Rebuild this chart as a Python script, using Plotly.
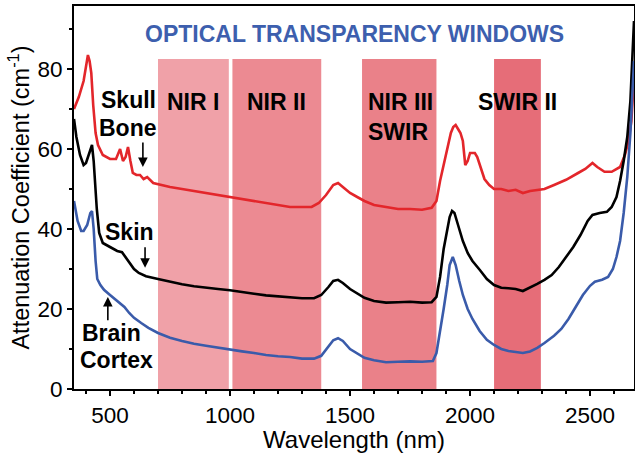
import plotly.graph_objects as go

# ---------------- data ----------------
skull_wl = [350, 370, 390, 400, 408, 415, 422, 430, 440, 450, 470, 500, 525, 542, 554, 565, 575, 585, 595, 610,
            625, 640, 655, 680, 710, 750, 800, 850, 900, 950, 1000, 1050, 1100, 1150, 1200, 1250, 1300, 1340, 1370,
            1400, 1430, 1450, 1470, 1500, 1530, 1560, 1600, 1650, 1700, 1750, 1800, 1840, 1860, 1875, 1890, 1905,
            1920, 1930, 1940, 1950, 1960, 1970, 1980, 1990, 2000, 2010, 2020, 2030, 2045, 2060, 2080, 2100, 2130,
            2160, 2190, 2220, 2250, 2280, 2310, 2350, 2400, 2450, 2480, 2510, 2530, 2560, 2590, 2625, 2645, 2660,
            2672, 2683]
skull_val = [70, 73, 77, 81, 83.5, 82, 79, 71, 64, 61, 58.5, 57.5, 57.5, 60, 57, 58, 60.5, 57, 54, 53.5,
             53.5, 52.5, 53, 51.5, 51, 50.5, 50, 49.5, 49, 48.5, 48, 47.5, 47, 46.5, 46, 45.5, 45.5, 45.5, 46.5,
             48.5, 51, 51.5, 50.5, 49, 48, 47, 46, 45.5, 45, 45, 44.8, 45.3, 47, 52, 56, 60,
             64, 65.5, 66, 65, 64, 62, 56, 57, 59, 59, 59, 58, 55, 52.5, 51, 50, 50,
             49.5, 49.8, 49, 49.5, 49.8, 50, 51, 52.3, 54, 55, 56.5, 55.5, 54.3, 54.3, 55.5, 58.5, 62,
             67, 78]

skin_wl = [350, 360, 375, 390, 400, 415, 425, 432, 438, 445, 455, 470, 500, 530, 550, 565, 580, 600, 620, 650,
           700, 750, 800, 850, 900, 950, 1000, 1050, 1100, 1150, 1200, 1250, 1300, 1350, 1380, 1410, 1430, 1450,
           1470, 1500, 1530, 1560, 1600, 1650, 1700, 1750, 1800, 1840, 1860, 1875, 1890, 1905, 1915, 1925, 1935,
           1950, 1970, 1990, 2010, 2040, 2070, 2100, 2130, 2160, 2190, 2220, 2250, 2280, 2310, 2340, 2370, 2400,
           2430, 2460, 2490, 2510, 2540, 2570, 2590, 2610, 2625, 2640, 2655, 2668, 2677, 2683]
skin_val = [67.5, 63, 58.5, 56, 56.5, 59, 61, 57, 50, 45, 39, 36.5, 35.5, 34.5, 34.2, 33, 31.5, 30, 29, 28.2,
            27.5, 26.8, 26.2, 25.7, 25.3, 25, 24.7, 24.2, 23.8, 23.4, 23.2, 23, 22.7, 22.7, 23.5, 25.5, 27, 27.3,
            26.5, 25, 23.8, 22.8, 22, 21.6, 21.7, 21.8, 21.6, 21.7, 23, 28, 35, 40, 43, 44.5, 44,
            41, 37, 34, 32, 29.8, 27.5, 26, 25.3, 25.2, 25, 24.5, 25.3, 26.3, 27.3, 28.5, 30.5, 33,
            35.5, 38.5, 42, 43.5, 44, 44.3, 45.5, 48, 52, 57, 63, 72, 82, 92]

brain_wl = [350, 365, 380, 390, 405, 418, 425, 432, 440, 447, 460, 475, 500, 520, 540, 560, 580, 600, 630, 660,
            700, 750, 800, 850, 900, 950, 1000, 1050, 1100, 1150, 1200, 1250, 1300, 1350, 1380, 1410, 1430, 1450,
            1470, 1500, 1530, 1560, 1600, 1650, 1700, 1750, 1800, 1845, 1860, 1875, 1890, 1905, 1915, 1928, 1940,
            1955, 1970, 1990, 2010, 2040, 2070, 2100, 2130, 2160, 2190, 2220, 2250, 2280, 2310, 2330, 2350, 2380,
            2410, 2440, 2470, 2500, 2520, 2550, 2575, 2595, 2610, 2625, 2640, 2655, 2668, 2683]
brain_val = [47, 42, 39.5, 39.5, 41, 44, 44.5, 40, 32, 27.5, 26, 24.8, 23.5, 22.5, 21.6, 20.5, 19, 17.8, 16.5, 15.3,
             14, 12.8, 12, 11.3, 10.8, 10.3, 9.9, 9.4, 9, 8.5, 8.2, 8, 7.6, 7.6, 8.3, 10.5, 12.2, 12.7,
             12, 10, 8.8, 7.8, 7.2, 6.7, 6.8, 6.9, 6.8, 7, 9, 14, 20, 26, 31, 33, 31,
             27, 23.5, 20, 17.5, 14.5, 12.3, 11, 10, 9.5, 9.2, 9, 9.4, 10.3, 11.5, 12.3, 13.3, 15,
             17.5, 20.5, 23.5, 25.8, 26.8, 27.3, 28, 30, 33, 37, 44, 53, 64, 82]

band_names = ["NIR I", "NIR II", "NIR III<br>SWIR", "SWIR II"]
band_start = [700, 1010, 1550, 2100]
band_end = [995, 1380, 1860, 2295]
band_top = 82.5
band_colors = ["#F0A1A8", "#EC8A92", "#EA8189", "#E66D78"]
band_label_x = [846, 1192, 1712, 2196]

x_ticks = [500, 1000, 1500, 2000, 2500]
y_ticks = [0, 20, 40, 60, 80]

# ---------------- figure ----------------
FONT = "Liberation Sans, Arial"
fig = go.Figure()

shapes = []
for s, e, c in zip(band_start, band_end, band_colors):
    shapes.append(dict(type="rect", xref="x", yref="y", x0=s, x1=e, y0=0, y1=band_top,
                       fillcolor=c, line=dict(width=0), layer="below"))

fig.add_trace(go.Scatter(x=skull_wl, y=skull_val, mode="lines", line=dict(color="#E3262B", width=2.6),
                         name="Skull Bone", showlegend=False))
fig.add_trace(go.Scatter(x=skin_wl, y=skin_val, mode="lines", line=dict(color="#000000", width=2.6),
                         name="Skin", showlegend=False))
fig.add_trace(go.Scatter(x=brain_wl, y=brain_val, mode="lines", line=dict(color="#3A5BAA", width=2.6),
                         name="Brain Cortex", showlegend=False))

bold_font = dict(family=FONT, size=23, color="black")
annotations = []
for name, lx in zip(band_names, band_label_x):
    annotations.append(dict(x=lx, y=75.5, xref="x", yref="y", text="<b>" + name + "</b>", showarrow=False,
                            font=bold_font, yanchor="top", align="left"))

annotations.append(dict(xref="x", yref="y", x=1520, y=88.8, text="<b>OPTICAL TRANSPARENCY WINDOWS</b>",
                        showarrow=False, font=dict(family=FONT, size=23, color="#3D5FAE")))

# curve labels
annotations.append(dict(xref="x", yref="y", x=575, y=72.3, text="<b>Skull</b>", showarrow=False, font=bold_font))
annotations.append(dict(xref="x", yref="y", x=575, y=65.3, text="<b>Bone</b>", showarrow=False, font=bold_font))
annotations.append(dict(xref="x", yref="y", x=583, y=39.3, text="<b>Skin</b>", showarrow=False, font=bold_font))
annotations.append(dict(xref="x", yref="y", x=505, y=14, text="<b>Brain</b>", showarrow=False, font=bold_font))
annotations.append(dict(xref="x", yref="y", x=529, y=7.3, text="<b>Cortex</b>", showarrow=False, font=bold_font))

# arrows
for xa, tip, tail in [(637, 55.5, 62), (646, 30.3, 35.8), (491, 23, 16.8)]:
    annotations.append(dict(xref="x", yref="y", axref="x", ayref="y", x=xa, y=tip, ax=xa, ay=tail,
                            text="", showarrow=True, arrowhead=2, arrowsize=1.2, arrowwidth=1.6,
                            arrowcolor="black"))

axis_common = dict(showline=True, linecolor="black", linewidth=2, mirror=True, ticks="outside",
                   ticklen=5, tickwidth=1.5, tickcolor="black", showgrid=False, zeroline=False,
                   tickfont=dict(family=FONT, size=22.5, color="black"), automargin=False)

fig.update_layout(
    width=635, height=453,
    margin=dict(l=74, r=1, t=6, b=64),
    paper_bgcolor="white", plot_bgcolor="white",
    shapes=shapes, annotations=annotations,
    xaxis=dict(range=[350, 2683], tickvals=x_ticks,
               minor=dict(dtick=100, ticks="outside", ticklen=3, tickcolor="black", tick0=0),
               title=dict(text="Wavelength (nm)", font=dict(family=FONT, size=24, color="black"),
                          standoff=2),
               **axis_common),
    yaxis=dict(range=[0, 95.75], tickvals=y_ticks,
               minor=dict(dtick=10, ticks="outside", ticklen=3, tickcolor="black", tick0=0),
               title=dict(text="Attenuation Coefficient (cm<sup>-1</sup>)",
                          font=dict(family=FONT, size=23.5, color="black"), standoff=1),
               **axis_common),
)

fig.write_html("out.html", config={"displayModeBar": False},
               post_script="document.body.style.margin='0px';document.body.style.padding='0px';")
